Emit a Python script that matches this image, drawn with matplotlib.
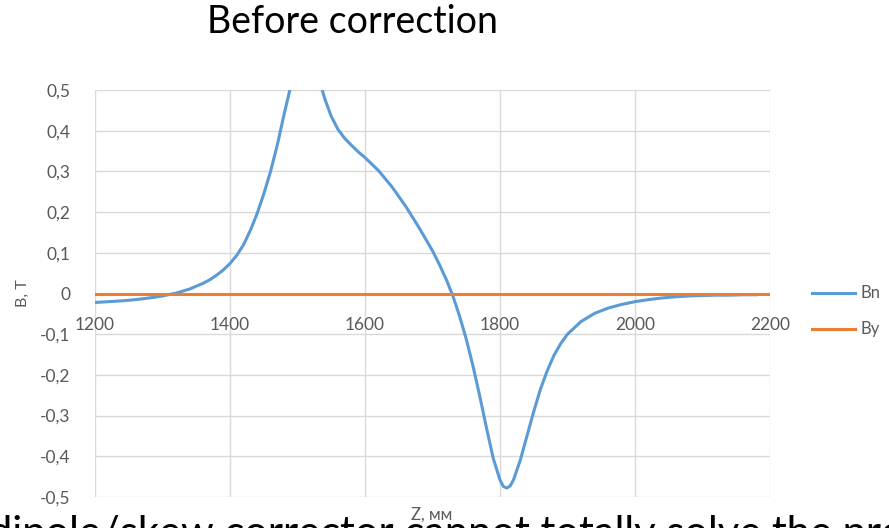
import matplotlib
matplotlib.use("Agg")
import matplotlib.pyplot as plt
from matplotlib.ticker import FuncFormatter

# Field along the beam axis, before correction
z_bn = [1200, 1220, 1240, 1260, 1280, 1300, 1320, 1340, 1360, 1370,
        1380, 1390, 1400, 1410, 1420, 1430, 1440, 1450, 1460, 1470,
        1480, 1490, 1500, 1510, 1520, 1530, 1540, 1550, 1560, 1570,
        1580, 1590, 1600, 1620, 1640, 1660, 1680, 1700, 1710, 1720,
        1730, 1740, 1750, 1760, 1770, 1780, 1790, 1800, 1805, 1810,
        1815, 1820, 1830, 1840, 1850, 1860, 1870, 1880, 1890, 1900,
        1920, 1940, 1960, 1980, 2000, 2020, 2040, 2060, 2080, 2100,
        2120, 2140, 2160, 2180]
bn = [-0.022, -0.020, -0.018, -0.015, -0.011, -0.006, 0.001, 0.011, 0.025, 0.034,
      0.045, 0.058, 0.074, 0.094, 0.120, 0.155, 0.196, 0.245, 0.300, 0.365,
      0.440, 0.510, 0.580, 0.625, 0.610, 0.540, 0.480, 0.435, 0.403, 0.381,
      0.364, 0.348, 0.334, 0.302, 0.262, 0.215, 0.162, 0.105, 0.072, 0.036,
      -0.005, -0.055, -0.112, -0.178, -0.252, -0.330, -0.405, -0.458, -0.474, -0.478,
      -0.473, -0.458, -0.410, -0.350, -0.290, -0.235, -0.190, -0.152, -0.123, -0.100,
      -0.069, -0.049, -0.036, -0.027, -0.020, -0.015, -0.011, -0.008, -0.006, -0.005,
      -0.004, -0.004, -0.003, -0.003]

z_by = [1200, 1300, 1400, 1500, 1600, 1700, 1800, 1900, 2000, 2100, 2200]
by = [0, 0, 0, 0, 0, 0, 0, 0, 0, 0, 0]

x_ticks = [1200, 1400, 1600, 1800, 2000, 2200]
y_ticks = [-0.5, -0.4, -0.3, -0.2, -0.1, 0, 0.1, 0.2, 0.3, 0.4, 0.5]

plt.rcParams["font.family"] = ["Lato", "DejaVu Sans"]

fig = plt.figure(figsize=(8.89, 5.28), dpi=100)
ax = fig.add_axes([0.107, 0.0587, 0.759, 0.7708])

ax.plot(z_bn, bn, color="#5b9bd5", linewidth=2.2, label="Bn", zorder=3,
        solid_joinstyle="round")
ax.plot(z_by, by, color="#ed7d31", linewidth=2.2, label="By", zorder=4)

ax.set_xlim(1200, 2200)
ax.set_ylim(-0.5, 0.5)
ax.set_xticks(x_ticks)
ax.set_yticks(y_ticks)

comma = FuncFormatter(lambda v, _: "0" if abs(v) < 1e-9 else f"{v:.1f}".replace(".", ","))
ax.yaxis.set_major_formatter(comma)

ax.grid(True, color="#d9d9d9", linewidth=1.0)
ax.set_axisbelow(True)
for side in ("top", "right", "left"):
    ax.spines[side].set_visible(False)
ax.spines["bottom"].set_position(("data", 0))
ax.spines["bottom"].set_visible(False)
ax.tick_params(length=0, labelsize=12.5, labelcolor="#595959")
ax.tick_params(axis="x", pad=17)
ax.tick_params(axis="y", pad=18)

fig.text(0.026, 0.445, "B, T", rotation=90, ha="center", va="center",
         fontsize=11.5, color="#595959")
fig.text(0.486, 0.025, "Z, мм", ha="center", va="center",
         fontsize=12, color="#595959")

fig.text(0.397, 0.958, "Before correction", ha="center", va="center",
         fontsize=27, color="black")

ax.legend(loc="center left", bbox_to_anchor=(1.04, 0.456), frameon=False,
          fontsize=12, labelcolor="#595959", handlelength=2.6,
          labelspacing=1.2, handletextpad=0.3)

# slide caption running off the lower edge
fig.text(-0.012, -0.034, "dipole/skew corrector cannot totally solve the problem",
         ha="left", va="baseline", fontsize=30, color="black")

fig.savefig("out.png", dpi=100)
